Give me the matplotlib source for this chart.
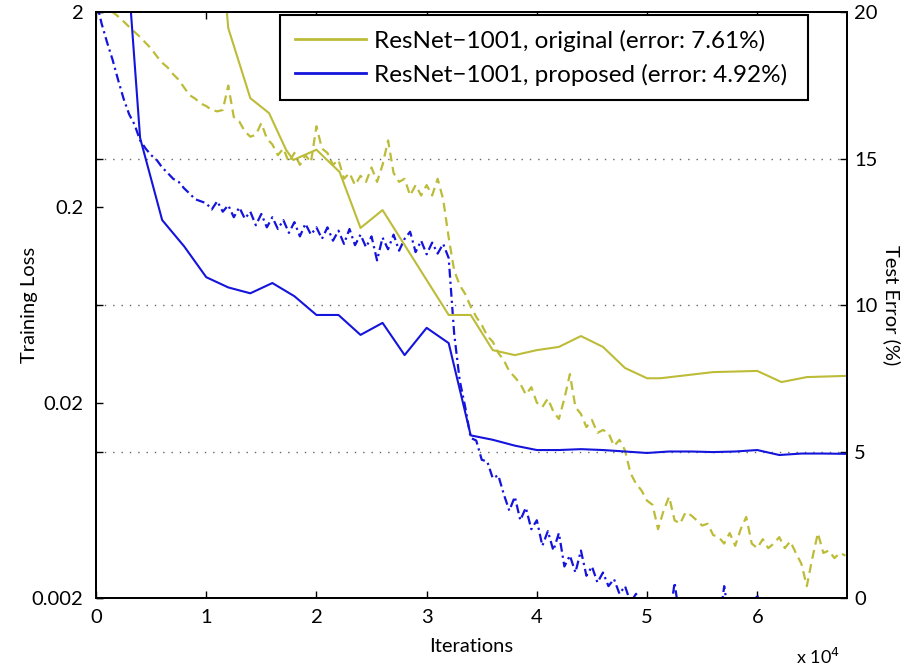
import matplotlib
matplotlib.use('Agg')
import matplotlib.pyplot as plt
import numpy as np

plt.rcParams['font.family'] = ['Lato', 'DejaVu Sans']
plt.rcParams['axes.unicode_minus'] = True

# ---------------------------
# data
# ---------------------------
# training loss, one value every 500 iterations (0 ... 68000)
loss_step = 500
loss_original = [
    2.60, 2.45, 2.22, 2.00, 1.90, 1.79, 1.68, 1.58, 1.49, 1.39,
    1.30, 1.19, 1.10, 1.04, 0.96, 0.90, 0.82, 0.75, 0.72, 0.68,
    0.66, 0.63, 0.62, 0.63, 0.84, 0.58, 0.55, 0.49, 0.46, 0.47,
    0.54, 0.45, 0.42, 0.37, 0.40, 0.34, 0.38, 0.33, 0.37, 0.34,
    0.52, 0.40, 0.38, 0.33, 0.35, 0.28, 0.30, 0.26, 0.29, 0.27,
    0.32, 0.27, 0.33, 0.44, 0.30, 0.27, 0.28, 0.23, 0.26, 0.23,
    0.26, 0.23, 0.28, 0.22, 0.14, 0.095, 0.080, 0.072, 0.062, 0.055,
    0.050, 0.044, 0.041, 0.036, 0.033, 0.029, 0.027, 0.025, 0.022, 0.024,
    0.020, 0.019, 0.021, 0.018, 0.0165, 0.021, 0.028, 0.019, 0.0175, 0.015,
    0.0163, 0.014, 0.0145, 0.014, 0.012, 0.0129, 0.0114, 0.0087, 0.0077, 0.0071,
    0.0063, 0.0060, 0.0045, 0.0056, 0.0066, 0.0050, 0.0048, 0.0055, 0.0053, 0.0050,
    0.0047, 0.0048, 0.0042, 0.0041, 0.0038, 0.0043, 0.0037, 0.0045, 0.0052, 0.0038,
    0.0036, 0.0040, 0.0036, 0.0038, 0.0041, 0.0036, 0.0039, 0.0034, 0.0030, 0.0023,
    0.0032, 0.0043, 0.0034, 0.0035, 0.0032, 0.0034, 0.0033,
]
loss_proposed = [
    2.30, 1.75, 1.40, 1.14, 0.90, 0.72, 0.60, 0.53, 0.44, 0.40,
    0.37, 0.35, 0.32, 0.30, 0.28, 0.27, 0.25, 0.235, 0.22, 0.215,
    0.21, 0.195, 0.215, 0.19, 0.205, 0.178, 0.20, 0.175, 0.19, 0.162,
    0.185, 0.158, 0.178, 0.155, 0.172, 0.148, 0.168, 0.142, 0.165, 0.145,
    0.158, 0.138, 0.158, 0.135, 0.152, 0.130, 0.155, 0.128, 0.145, 0.125,
    0.142, 0.107, 0.140, 0.122, 0.145, 0.120, 0.138, 0.150, 0.118, 0.135,
    0.115, 0.132, 0.116, 0.130, 0.11, 0.045, 0.026, 0.019, 0.0132, 0.0128,
    0.0102, 0.0100, 0.0082, 0.0085, 0.0068, 0.0056, 0.0066, 0.0050, 0.0058, 0.0045,
    0.0050, 0.0037, 0.0044, 0.0035, 0.0043, 0.0029, 0.0033, 0.0027, 0.0035, 0.0026,
    0.0029, 0.0024, 0.0027, 0.0023, 0.0025, 0.0021, 0.0023, 0.0019, 0.0021, 0.0019,
    0.0018, 0.0017, 0.0019, 0.0016, 0.0015, 0.0024, 0.0015, 0.0016, 0.0014, 0.0015,
    0.0016, 0.0014, 0.0015, 0.0014, 0.0023, 0.0015, 0.0014, 0.0016, 0.0014, 0.0015,
    0.0021, 0.0014, 0.0015, 0.0014, 0.0016, 0.0014, 0.0015, 0.0014, 0.0015, 0.0014,
    0.0015, 0.0014, 0.0015, 0.0014, 0.0015, 0.0014, 0.0015,
]
loss_iters = np.arange(len(loss_original)) * loss_step

# test error (%)
err_iters_original = [10000, 12000, 14000, 15700, 17240, 17900, 20000, 22100, 24000,
                      26000, 32000, 34000, 36000, 38000, 40000, 42000, 44000, 46000,
                      48000, 50000, 51200, 56000, 60000, 62200, 64500, 68000]
err_original = [28.0, 19.45, 17.06, 16.55, 15.3, 14.95, 15.3, 14.54, 12.63,
                13.24, 9.66, 9.66, 8.46, 8.29, 8.46, 8.57, 8.94, 8.57,
                7.85, 7.5, 7.5, 7.71, 7.75, 7.37, 7.54, 7.58]

err_iters_proposed = [2000, 4000, 6000, 8000, 10000, 12000, 14000, 16000, 18000,
                      20000, 22000, 24000, 26000, 28000, 30000, 32000, 34000, 36000,
                      38000, 40000, 42000, 44000, 46000, 48000, 50000, 52000, 54000,
                      56000, 58000, 60000, 62000, 64000, 66000, 68000]
err_proposed = [26.0, 15.7, 12.9, 12.0, 10.95, 10.6, 10.4, 10.75, 10.3,
                9.66, 9.66, 8.98, 9.39, 8.29, 9.22, 8.70, 5.55, 5.4,
                5.2, 5.05, 5.05, 5.08, 5.05, 5.0, 4.95, 5.0, 5.0,
                4.98, 5.0, 5.05, 4.88, 4.93, 4.93, 4.92]

labels = ['ResNet\u22121001, original (error: 7.61%)',
          'ResNet\u22121001, proposed (error: 4.92%)']
c_yel = '#bcbc38'
c_blu = '#1414dc'
fs = 14.5

# ---------------------------
# figure
# ---------------------------
fig = plt.figure(figsize=(9.12, 6.68), dpi=100)
ax = fig.add_axes([0.1053, 0.1048, 0.8235, 0.8772])
ax2 = ax.twinx()

ax.plot(loss_iters, loss_original, '--', color=c_yel, lw=1.6, dashes=(4, 2.5))
ax.plot(loss_iters, loss_proposed, '-.', color=c_blu, lw=1.6, dashes=(4, 1.8, 1, 1.8))
ax.set_yscale('log')
ax.set_ylim(0.002, 2)
ax.set_xlim(0, 68150)
ax.set_yticks([0.002, 0.02, 0.2, 2])
ax.set_yticklabels(['0.002', '0.02', '0.2', '2'])
ax.yaxis.set_minor_locator(matplotlib.ticker.NullLocator())
ax.set_xticks(np.arange(0, 70000, 10000))
ax.set_xticklabels([str(i) for i in range(7)])
ax.tick_params(axis='both', direction='in', length=5, width=1, labelsize=fs,
               top=True, right=False)
ax.tick_params(axis='y', pad=9)
ax.tick_params(axis='x', pad=8)
ax.set_ylabel('Training Loss', fontsize=fs)
ax.yaxis.set_label_coords(-0.077, 0.5)
ax.set_xlabel('Iterations', fontsize=fs)
ax.xaxis.set_label_coords(0.5, -0.068)

l1, = ax2.plot(err_iters_original, err_original, '-', color=c_yel, lw=1.5)
l2, = ax2.plot(err_iters_proposed, err_proposed, '-', color=c_blu, lw=1.5)
ax2.set_ylim(0, 20)
ax2.set_yticks([0, 5, 10, 15, 20])
ax2.tick_params(axis='y', direction='in', length=5, width=1, labelsize=fs,
                left=True, right=True, labelleft=False, labelright=True, pad=5)
ax2.set_ylabel('Test Error (%)', fontsize=fs, rotation=270)
ax2.yaxis.set_label_coords(1.072, 0.5)
for v in [5, 10, 15]:
    ax2.axhline(v, color='0.4', lw=1, ls=(0, (1, 5)), zorder=0)

for a in (ax, ax2):
    for s in a.spines.values():
        s.set_linewidth(1.4)

leg = ax2.legend([l1, l2], labels, loc='upper left',
                 bbox_to_anchor=(0.245, 0.850, 0.703, 0.145), mode='expand',
                 fontsize=17.5, frameon=True, fancybox=False, framealpha=1,
                 edgecolor='black', handlelength=2.95, handletextpad=0.3,
                 borderpad=0.6, labelspacing=0.5, borderaxespad=0)
leg.get_frame().set_linewidth(1.5)
for h in leg.get_lines():
    h.set_linewidth(2)

fig.text(0.873, 0.006, r'x 10$^{4}$', fontsize=13)

fig.savefig('out.png', dpi=100)
